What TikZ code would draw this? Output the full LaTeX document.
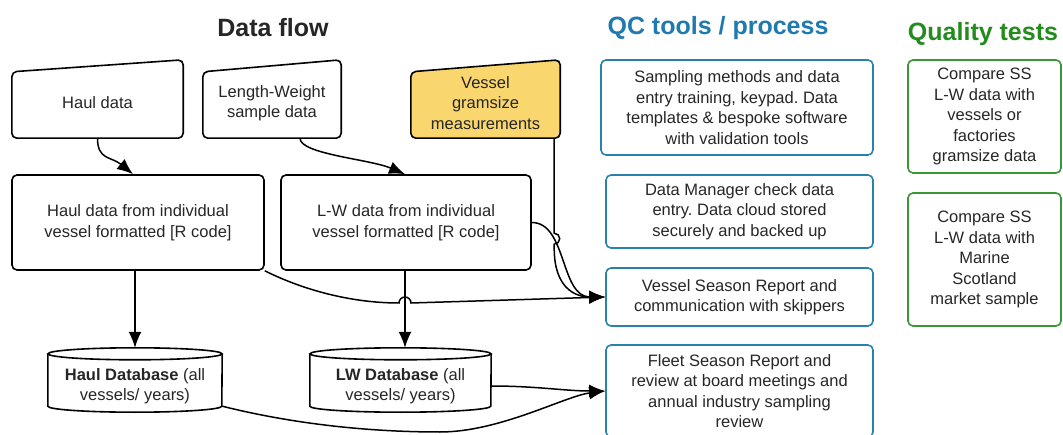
\documentclass[tikz,border=0pt]{standalone}
\usepackage{fontspec}
\setmainfont{Liberation Sans}
\usetikzlibrary{arrows.meta,backgrounds}
\definecolor{qcblue}{RGB}{40,130,172}
\definecolor{qtgreen}{RGB}{56,152,52}
\definecolor{titleblue}{RGB}{30,122,175}
\definecolor{titlegreen}{RGB}{36,140,30}
\definecolor{gramyellow}{RGB}{249,214,110}
\tikzstyle{boxtext}=[align=center, inner sep=0pt, font=\fontsize{16.5}{20.5}\selectfont]
\tikzstyle{srcbox}=[boxtext, minimum height=70pt]
\tikzstyle{flowbox}=[boxtext, draw, line width=1.6pt, rounded corners=5pt, minimum height=95pt]
\tikzstyle{qcbox}=[boxtext, draw=qcblue, line width=1.6pt, rounded corners=5pt, minimum width=267pt]
\tikzstyle{qtbox}=[boxtext, draw=qtgreen, line width=1.6pt, rounded corners=5pt, minimum width=153pt]
\tikzstyle{dbnode}=[boxtext, minimum height=40pt]
\tikzstyle{heading}=[font=\fontsize{25}{30}\selectfont\bfseries]
\tikzstyle{flow}=[->, line width=1.5pt]
\frenchspacing

\begin{document}
\begin{tikzpicture}[x=1pt,y=1pt,>={Latex[length=16pt,width=13pt]},text=black!85]
\useasboundingbox (0,0) rectangle (1063,434);
% headings
\node[heading] (dfhead) at (273,406) {Data flow};
\node[heading,text=titleblue] (qchead) at (718,406) {QC tools / process};
\node[heading,text=titlegreen] (qthead) at (983,400) {Quality tests};
% data sources
\node[srcbox,minimum width=171pt] (haul) at (97.5,331) {Haul data};
\node[srcbox,minimum width=138pt] (lws) at (272,331) {Length-Weight\\sample data};
\node[srcbox,minimum width=149pt] (gram) at (485.5,331) {Vessel\\gramsize\\measurements};
% formatted data
\node[flowbox,minimum width=252pt] (hvf) at (138,211.5) {Haul data from individual\\vessel formatted [R code]};
\node[flowbox,minimum width=250pt] (lwf) at (406,211.5) {L-W data from individual\\vessel formatted [R code]};
% databases
\node[dbnode,minimum width=174pt] (hdb) at (135,48) {\textbf{Haul Database} (all\\vessels/ years)};
\node[dbnode,minimum width=181pt] (ldb) at (400.5,48) {\textbf{LW Database} (all\\vessels/ years)};
\coordinate (hdbtop) at ([yshift=18pt]hdb.north);
\coordinate (ldbtop) at ([yshift=18pt]ldb.north);
% QC tools / process
\node[qcbox,minimum width=272pt,minimum height=95pt] (qc1) at (737,326.5) {Sampling methods and data\\entry training, keypad. Data\\templates \& bespoke software\\with validation tools};
\node[qcbox,minimum height=73pt] (qc2) at (739.5,222.5) {Data Manager check data\\entry. Data cloud stored\\securely and backed up};
\node[qcbox,minimum height=58pt] (qc3) at (739.5,137) {Vessel Season Report and\\communication with skippers};
\node[qcbox,minimum height=92pt] (qc4) at (739.5,43) {Fleet Season Report and\\review at board meetings and\\annual industry sampling\\review};
% quality tests
\node[qtbox,minimum height=113pt] (qt1) at (984.5,317.5) {Compare SS\\L-W data with\\vessels or\\factories\\gramsize data};
\node[qtbox,minimum height=133pt] (qt2) at (984.5,174.5) {Compare SS\\L-W data with\\Marine\\Scotland\\market sample};
% shapes behind the texts
\begin{scope}[on background layer]
\foreach \n/\c in {haul/white,lws/white,gram/gramyellow}
  \draw[line width=1.6pt, rounded corners=5pt, fill=\c] (\n.south west) -- (\n.south east) -- ([yshift=8pt]\n.north east) -- ([yshift=-4pt]\n.north west) -- cycle;
\foreach \n/\r in {hdb/87pt,ldb/90.5pt}{
  \draw[line width=1.6pt, fill=white] ([yshift=12pt]\n.north west) -- (\n.south west) arc[start angle=180, end angle=360, x radius=\r, y radius=6pt] -- ([yshift=12pt]\n.north east);
  \draw[line width=1.6pt] ([yshift=12pt]\n.north) ellipse[x radius=\r, y radius=6pt];
}
\end{scope}
% connectors
\draw[flow] (haul.south) .. controls +(0,-22) and +(-22,18) .. ([xshift=-5pt]hvf.north);
\draw[flow] ([xshift=28pt]lws.south) .. controls +(0,-16) and +(-35,15) .. ([xshift=-1pt]lwf.north);
\draw[flow] (hvf.south -| hdbtop) -- (hdbtop);
\draw[flow] ([xshift=-1pt]lwf.south) -- ([xshift=-1pt]lwf.south |- ldbtop);
\draw[flow] (lwf.east) .. controls +(35,0) and +(-45,0) .. (qc3.west);
\draw[flow] ([xshift=-6pt]gram.south east) -- ++(0,-95) arc[start angle=90, end angle=-90, radius=5.5pt] -- ++(0,-4) .. controls +(0,-40) and +(-30,0) .. (qc3.west);
\draw[flow] (hvf.south east) .. controls +(36,-18) and +(-50,0) .. (399,131) arc[start angle=180, end angle=0, radius=6pt] -- (qc3.west);
\draw[flow] (ldb.east) .. controls +(45,0) and +(-40,0) .. (qc4.west);
\draw[flow] (hdb.south east) .. controls +(80,-20) and +(-60,0) .. (440,2) .. controls +(60,0) and +(-40,-5) .. (qc4.west);
\end{tikzpicture}
\end{document}
